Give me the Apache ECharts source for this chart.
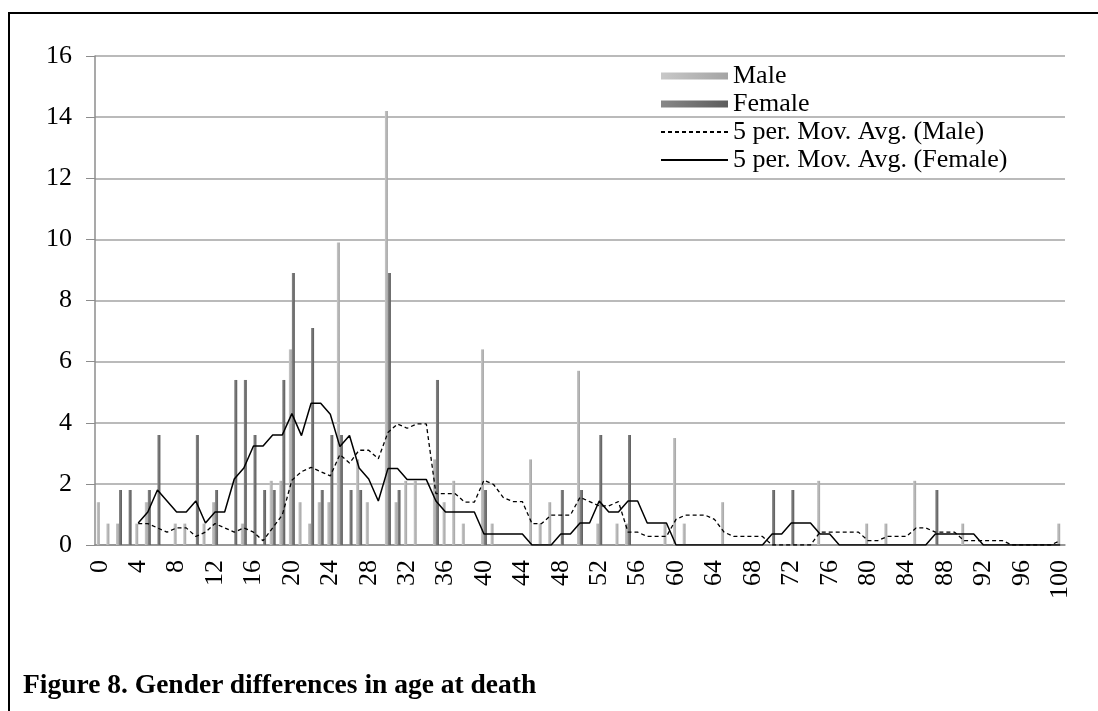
<!DOCTYPE html>
<html>
<head>
<meta charset="utf-8">
<script src="https://cdn.jsdelivr.net/npm/echarts@6/dist/echarts.min.js"></script>
<style>
  html, body { margin: 0; padding: 0; background: #fff; }
  #wrap { position: relative; width: 1098px; height: 711px; overflow: hidden; }
  #frame {
    position: absolute; left: 8px; top: 12px; width: 1200px; height: 800px;
    border-left: 2px solid #000; border-top: 2px solid #000;
  }
  #chart { position: absolute; left: 0; top: 0; width: 1098px; height: 711px; }
  #caption {
    position: absolute; left: 23px; top: 668px;
    font-family: "Liberation Serif", "DejaVu Serif", serif;
    font-weight: bold; font-size: 27.5px; color: #000;
  }
</style>
</head>
<body>
<div id="wrap">
  <div id="frame"></div>
  <div id="chart"></div>
  <div id="caption">Figure 8. Gender differences in age at death</div>
</div>
<script>
// ages 0..100
const ages = []
for (let i = 0; i <= 100; i++) ages.push(String(i))

// non-zero values, age -> percent
const maleValues = {
  0: 1.4, 1: 0.7, 2: 0.7, 4: 0.7, 5: 1.4, 8: 0.7, 9: 0.7, 11: 0.7, 12: 1.4,
  15: 0.7, 18: 2.1, 19: 2.1, 20: 6.4, 21: 1.4, 22: 0.7, 23: 1.4, 24: 1.4,
  25: 9.9, 27: 2.8, 28: 1.4, 30: 14.2, 31: 1.4, 32: 2.1, 33: 2.1, 35: 2.8,
  36: 1.4, 37: 2.1, 38: 0.7, 40: 6.4, 41: 0.7, 45: 2.8, 46: 0.7, 47: 1.4,
  50: 5.7, 52: 0.7, 54: 0.7, 55: 0.7, 59: 0.7, 60: 3.5, 61: 0.7, 65: 1.4,
  75: 2.1, 80: 0.7, 82: 0.7, 85: 2.1, 90: 0.7, 100: 0.7
}
const femaleValues = {
  2: 1.8, 3: 1.8, 5: 1.8, 6: 3.6, 10: 3.6, 12: 1.8, 14: 5.4, 15: 5.4,
  16: 3.6, 17: 1.8, 18: 1.8, 19: 5.4, 20: 8.9, 22: 7.1, 23: 1.8, 24: 3.6,
  25: 3.6, 26: 1.8, 27: 1.8, 30: 8.9, 31: 1.8, 35: 5.4, 40: 1.8, 48: 1.8,
  50: 1.8, 52: 3.6, 55: 3.6, 70: 1.8, 72: 1.8, 87: 1.8
}
const yTicks = [0, 2, 4, 6, 8, 10, 12, 14, 16]

const male = ages.map((a, i) => maleValues[i] || 0)
const female = ages.map((a, i) => femaleValues[i] || 0)

// 5 period moving average trendline, like the spreadsheet draws it
const movAvg = (arr, n) => arr.map((v, i) => {
  if (i < n - 1) return null
  let s = 0
  for (let k = i - n + 1; k <= i; k++) s += arr[k]
  return +(s / n).toFixed(3)
})

const serif = '"Liberation Serif", "DejaVu Serif", serif'
const chart = echarts.init(document.getElementById('chart'))

chart.setOption({
  animation: false,
  grid: { left: 95, right: 33, top: 56, bottom: 166 },
  legend: {
    orient: 'vertical',
    left: 655,
    top: 57,
    itemWidth: 67,
    itemHeight: 7,
    itemGap: 0,
    textStyle: { fontFamily: serif, fontSize: 26, lineHeight: 28, color: '#000' },
    data: [
      { name: 'Male', icon: 'rect' },
      { name: 'Female', icon: 'rect' },
      { name: '5 per. Mov. Avg. (Male)', itemStyle: { opacity: 0 } },
      { name: '5 per. Mov. Avg. (Female)', itemStyle: { opacity: 0 } }
    ]
  },
  xAxis: {
    type: 'category',
    data: ages,
    boundaryGap: true,
    axisLine: { lineStyle: { color: '#8c8c8c', width: 1.5 } },
    axisTick: { interval: 0, length: 8, lineStyle: { color: '#8c8c8c', width: 1 } },
    axisLabel: {
      interval: 3,
      rotate: 90,
      margin: 15,
      fontFamily: serif,
      fontSize: 26,
      color: '#000'
    }
  },
  yAxis: {
    type: 'value',
    min: 0,
    max: 16,
    interval: 2,
    axisLine: { show: true, lineStyle: { color: '#8c8c8c', width: 1.5 } },
    axisTick: { show: true, length: 9, lineStyle: { color: '#8c8c8c' } },
    axisLabel: {
      margin: 23,
      fontFamily: serif,
      fontSize: 26,
      color: '#000',
      formatter: v => yTicks.includes(v) ? String(v) : ''
    },
    splitLine: { lineStyle: { color: '#a3a3a3', width: 1.5 } }
  },
  series: [
    {
      name: 'Male',
      type: 'bar',
      data: male,
      barWidth: 3,
      barGap: '0%',
      itemStyle: {
        color: new echarts.graphic.LinearGradient(0, 0, 1, 0, [
          { offset: 0, color: '#c8c8c8' },
          { offset: 1, color: '#a4a4a4' }
        ])
      }
    },
    {
      name: 'Female',
      type: 'bar',
      data: female,
      barWidth: 3,
      itemStyle: {
        color: new echarts.graphic.LinearGradient(0, 0, 1, 0, [
          { offset: 0, color: '#888888' },
          { offset: 1, color: '#5c5c5c' }
        ])
      }
    },
    {
      name: '5 per. Mov. Avg. (Male)',
      type: 'line',
      data: movAvg(male, 5),
      symbol: 'none',
      itemStyle: { color: '#000' },
      lineStyle: { color: '#000', width: 1.3, type: [4, 3] }
    },
    {
      name: '5 per. Mov. Avg. (Female)',
      type: 'line',
      data: movAvg(female, 5),
      symbol: 'none',
      itemStyle: { color: '#000' },
      lineStyle: { color: '#000', width: 1.5 }
    }
  ]
})
</script>
</body>
</html>
